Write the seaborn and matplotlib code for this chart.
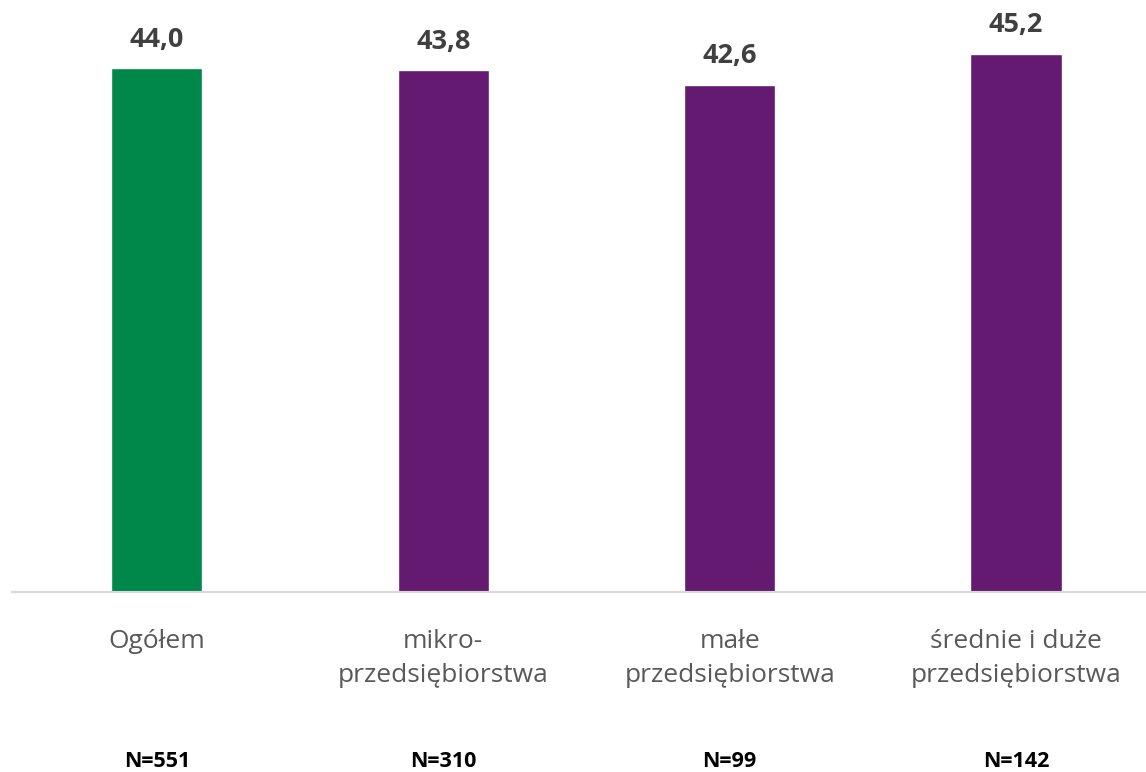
import matplotlib
matplotlib.use("Agg")
import matplotlib.pyplot as plt
import seaborn as sns
import pandas as pd

categories = ["Ogółem", "mikro-\nprzedsiębiorstwa", "małe\nprzedsiębiorstwa", "średnie i duże\nprzedsiębiorstwa"]
values = [44.0, 43.8, 42.6, 45.2]
n_labels = ["N=551", "N=310", "N=99", "N=142"]
colors = ["#00884A", "#651A72", "#651A72", "#651A72"]

sns.set_theme(style="white")
plt.rcParams['font.family'] = ['Open Sans', 'DejaVu Sans']

fig = plt.figure(figsize=(11.46, 7.72), dpi=100)
ax = fig.add_axes([12/1146, 180/772, 1134/1146, 592/772])

df = pd.DataFrame({"cat": categories, "val": values})
sns.barplot(data=df, x="cat", y="val", hue="cat", palette=colors, legend=False,
            width=0.318, ax=ax, saturation=1)

ax.set_xlim(-0.506, 3.454)
ax.set_ylim(0, 49.7)
for s in ["top", "right", "left"]:
    ax.spines[s].set_visible(False)
ax.spines["bottom"].set_color("#D9D9D9")
ax.spines["bottom"].set_linewidth(1.5)
ax.set_yticks([])
ax.set_xlabel("")
ax.set_ylabel("")
ax.tick_params(axis="x", length=0, pad=27, labelsize=19, labelcolor="#595959")
ax.set_xticks(range(len(categories)))
ax.set_xticklabels(categories, linespacing=1.45)

for i, v in enumerate(values):
    ax.annotate(f"{v:.1f}".replace(".", ","), (i, v), xytext=(0, 11), textcoords="offset points",
                ha="center", va="bottom", fontsize=19.5, fontweight="bold", color="#404040")

for i, n in enumerate(n_labels):
    ax.text(i, -14.2, n, ha="center", va="center", fontsize=15.5, fontweight="bold", color="#000000")

fig.savefig("out.png", dpi=100)
